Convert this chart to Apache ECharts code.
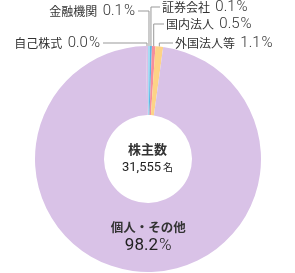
<!DOCTYPE html>
<html>
<head>
<meta charset="utf-8">
<title>株主構成</title>
<script src="https://cdn.jsdelivr.net/npm/echarts@6/dist/echarts.min.js"></script>
<style>
html,body{margin:0;padding:0;background:#fff;}
#chart{width:295px;height:273px;}
</style>
</head>
<body>
<div id="chart"></div>
<script>
var names = ['自己株式', '金融機関', '証券会社', '国内法人', '外国法人等', '個人・その他'];
var values = [0.0, 0.1, 0.1, 0.5, 1.1, 98.2];
var colors = ['#d9c2e7', '#a8dcf4', '#5cb6e6', '#f68e9c', '#fdd386', '#d9c2e7'];
var holders = '31,555';

// 引出線の折り返し先（ラベル位置）
var spots = [
    { side: 'left', x: 100, y: 43 },
    { side: 'left', x: 135, y: 11 },
    { side: 'right', x: 162, y: 7 },
    { side: 'right', x: 166, y: 24 },
    { side: 'right', x: 175, y: 43 }
];

var numFont = 'Roboto';
var jpFont = 'Noto Sans CJK JP';

var pieData = names.map(function (n, i) {
    var item = { name: n, value: values[i], itemStyle: { color: colors[i] } };
    if (i === names.length - 1) {
        item.label = {
            position: 'inside',
            formatter: function (p) {
                return '{a|' + p.name + '}\n{b|' + p.value.toFixed(1) + '}{c|%}';
            }
        };
        item.labelLine = { show: false };
    }
    return item;
});

var option = {
    animation: false,
    title: {
        text: '株主数',
        subtext: '{a|' + holders + '}{b|名}',
        left: 'center',
        top: 138,
        itemGap: 5,
        textStyle: { fontSize: 13, fontWeight: 'bold', color: '#333', fontFamily: jpFont },
        subtextStyle: {
            rich: {
                a: { fontSize: 13, color: '#222', fontFamily: numFont },
                b: { fontSize: 10, color: '#222', fontFamily: jpFont, padding: [0, 0, 0, 2] }
            }
        }
    },
    series: [{
        type: 'pie',
        center: [148, 159],
        radius: [44, 113],
        startAngle: 91,
        minAngle: 1,
        clockwise: true,
        avoidLabelOverlap: false,
        silent: true,
        label: {
            position: 'outside',
            color: '#222',
            formatter: function (p) {
                return '{n|' + p.name + '} {v|' + p.value.toFixed(1) + '}{u|%}';
            },
            rich: {
                n: { fontSize: 12, color: '#333', fontFamily: jpFont },
                v: { fontSize: 15, color: '#333', fontFamily: numFont, fontWeight: 300, padding: [0, 0, 0, 2] },
                u: { fontSize: 15, color: '#333', fontFamily: numFont, fontWeight: 300, padding: [0, 0, 0, 1] },
                a: { fontSize: 12.5, fontWeight: 'bold', color: '#333', fontFamily: jpFont, lineHeight: 19, align: 'center' },
                b: { fontSize: 17, color: '#222', fontFamily: numFont, lineHeight: 19 },
                c: { fontSize: 17, color: '#222', fontFamily: numFont, fontWeight: 300, lineHeight: 19, padding: [0, 0, 0, 1] }
            }
        },
        labelLine: {
            show: true,
            length: 10,
            length2: 10,
            lineStyle: { color: '#999', width: 1 }
        },
        labelLayout: function (p) {
            var s = spots[p.dataIndex];
            if (!s) return { dx: 5, dy: -4 };
            var pts = p.labelLinePoints;
            var x0, y0;
            if (pts && pts.length) {
                x0 = pts[0][0];
                y0 = pts[0][1];
            } else {
                x0 = p.rect.x + p.rect.width / 2;
                y0 = p.rect.y;
            }
            var endX = s.side === 'left' ? s.x + 3 : s.x - 2;
            return {
                x: s.x,
                y: s.y,
                align: s.side === 'left' ? 'right' : 'left',
                verticalAlign: 'middle',
                labelLinePoints: [[x0, y0], [x0, s.y], [endX, s.y]]
            };
        },
        data: pieData
    }]
};

var myChart = echarts.init(document.getElementById('chart'));
myChart.setOption(option);
</script>
</body>
</html>
